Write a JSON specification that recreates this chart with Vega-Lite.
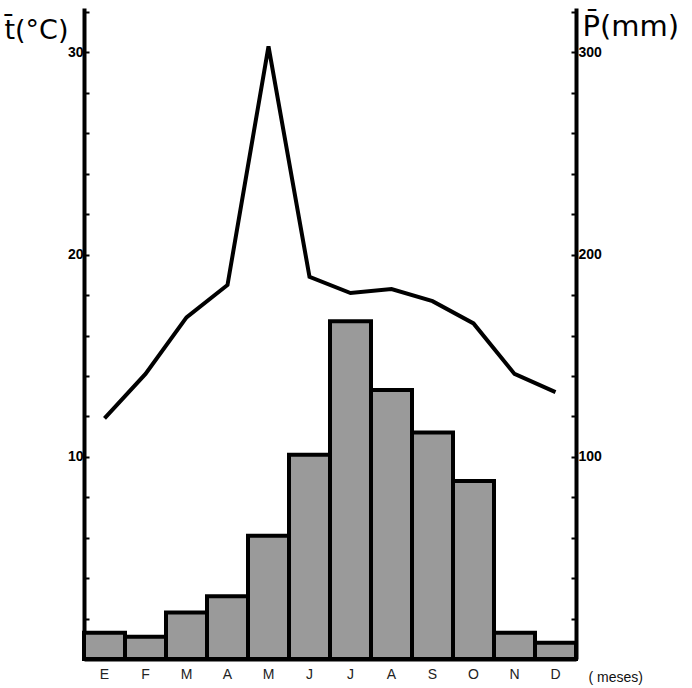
{
  "$schema": "https://vega.github.io/schema/vega-lite/v6.json",
  "width": 492,
  "height": 651,
  "autosize": "none",
  "padding": {"left": 84, "top": 8, "right": 116, "bottom": 29},
  "background": "white",
  "config": {"view": {"stroke": null}, "font": "Liberation Sans"},
  "data": {
    "values": [
      {"m": 1, "t": 11.9, "p": 13},
      {"m": 2, "t": 14.1, "p": 11},
      {"m": 3, "t": 16.9, "p": 23},
      {"m": 4, "t": 18.5, "p": 31},
      {"m": 5, "t": 30.3, "p": 61},
      {"m": 6, "t": 18.9, "p": 101},
      {"m": 7, "t": 18.1, "p": 167},
      {"m": 8, "t": 18.3, "p": 133},
      {"m": 9, "t": 17.7, "p": 112},
      {"m": 10, "t": 16.6, "p": 88},
      {"m": 11, "t": 14.1, "p": 13},
      {"m": 12, "t": 13.2, "p": 8}
    ]
  },
  "encoding": {
    "x": {
      "field": "m",
      "type": "ordinal",
      "scale": {"paddingInner": 0, "paddingOuter": 0},
      "axis": {
        "labelAngle": 0,
        "labelExpr": "['E','F','M','A','M','J','J','A','S','O','N','D'][datum.value-1]",
        "labelFontSize": 14,
        "labelColor": "#222",
        "labelPadding": 8,
        "ticks": false,
        "domainColor": "black",
        "domainWidth": 4,
        "title": "( meses)",
        "titleFontSize": 14,
        "titleFontWeight": "normal",
        "titleAlign": "left",
        "titleBaseline": "alphabetic",
        "titleX": 504,
        "titleY": 22,
        "titleColor": "#111"
      }
    }
  },
  "layer": [
    {
      "mark": {"type": "bar", "fill": "#9a9a9a", "stroke": "black", "strokeWidth": 4},
      "encoding": {
        "y": {
          "field": "p",
          "type": "quantitative",
          "scale": {"domain": [0, 322], "nice": false, "zero": true},
          "axis": {
            "orient": "right",
            "values": [0, 20, 40, 60, 80, 100, 120, 140, 160, 180, 200, 220, 240, 260, 280, 300, 320],
            "labelExpr": "datum.value % 100 == 0 && datum.value > 0 ? datum.label : ''",
            "labelFontSize": 14,
            "labelFontWeight": "bold",
            "labelColor": "black",
            "labelPadding": 7,
            "tickSize": -5,
            "tickWidth": 2,
            "tickColor": "black",
            "domainColor": "black",
            "domainWidth": 4,
            "grid": false,
            "title": "P̄(mm)",
            "titleAngle": 0,
            "titleAlign": "left",
            "titleBaseline": "alphabetic",
            "titleX": 6,
            "titleY": 27,
            "titleFontSize": 29,
            "titleFontWeight": "normal",
            "titleFont": "DejaVu Sans",
            "titleColor": "black"
          }
        }
      }
    },
    {
      "mark": {"type": "line", "color": "black", "strokeWidth": 4, "strokeJoin": "miter"},
      "encoding": {
        "y": {
          "field": "t",
          "type": "quantitative",
          "scale": {"domain": [0, 32.2], "nice": false, "zero": true},
          "axis": {
            "orient": "left",
            "values": [0, 2, 4, 6, 8, 10, 12, 14, 16, 18, 20, 22, 24, 26, 28, 30, 32],
            "labelExpr": "datum.value % 10 == 0 && datum.value > 0 ? datum.label : ''",
            "labelFontSize": 14,
            "labelFontWeight": "bold",
            "labelColor": "black",
            "labelPadding": 6,
            "tickSize": -5,
            "tickWidth": 2,
            "tickColor": "black",
            "domainColor": "black",
            "domainWidth": 4,
            "grid": false,
            "title": "t̄(°C)",
            "titleAngle": 0,
            "titleAlign": "left",
            "titleBaseline": "alphabetic",
            "titleX": -80,
            "titleY": 30,
            "titleFontSize": 27,
            "titleFontWeight": "normal",
            "titleFont": "DejaVu Sans",
            "titleColor": "black"
          }
        }
      }
    }
  ],
  "resolve": {"scale": {"y": "independent"}}
}
